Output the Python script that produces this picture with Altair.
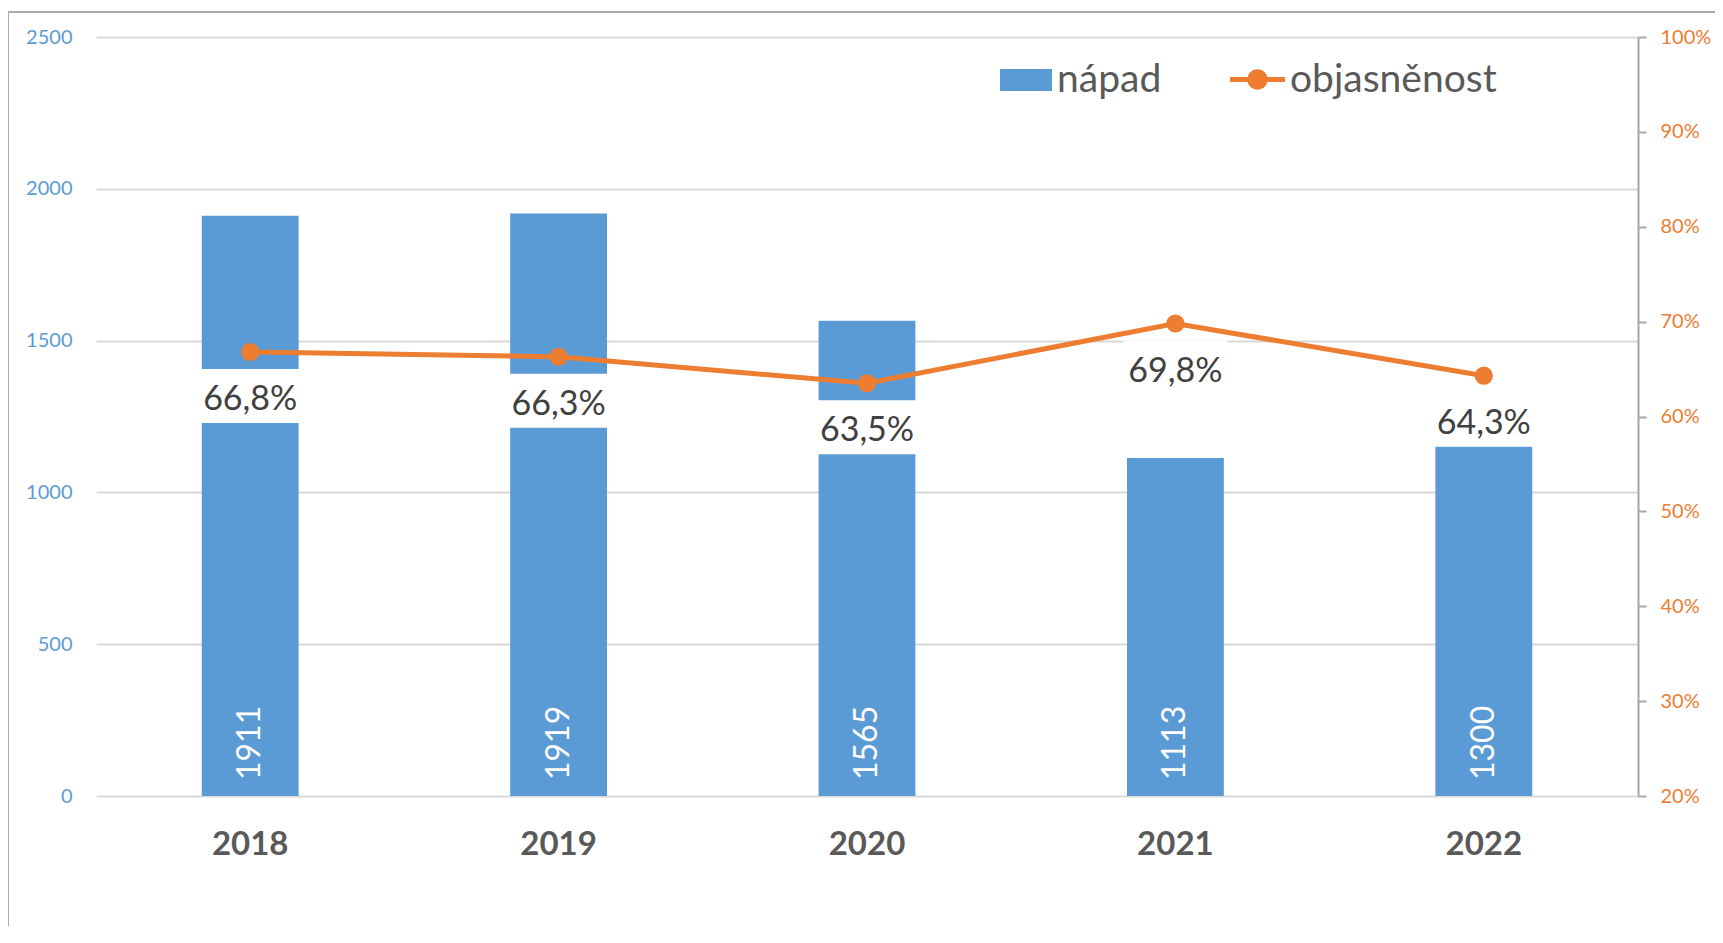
import altair as alt
import pandas as pd

years = ["2018", "2019", "2020", "2021", "2022"]
napad = [1911, 1919, 1565, 1113, 1300]
objasnenost = [0.668, 0.663, 0.635, 0.698, 0.643]
pct_labels = ["66,8%", "66,3%", "63,5%", "69,8%", "64,3%"]
left_ticks = [0, 500, 1000, 1500, 2000, 2500]
right_ticks = [0.2, 0.3, 0.4, 0.5, 0.6, 0.7, 0.8, 0.9, 1.0]

df = pd.DataFrame({
    "rok": years,
    "napad": napad,
    "obj": objasnenost,
    "lab": pct_labels,
    "s1": ["nápad"] * len(years),
    "s2": ["objasněnost"] * len(years),
})

BLUE = "#5B9BD5"
ORANGE = "#ED7D31"
FONT = "Lato"
GRAY_TXT = "#595959"

RECT_PATH = "M-1,-0.42H1V0.42H-1Z"
LINE_PATH = ("M-1,-0.09H-0.3V0.09H-1Z M0.3,-0.09H1V0.09H0.3Z "
             "M-0.37,0A0.37,0.37 0 1,1 0.37,0A0.37,0.37 0 1,1 -0.37,0Z")
BOX_PATH = "M-1,-0.52H1V0.52H-1Z"

x = alt.X("rok:N", title=None, sort=years,
          scale=alt.Scale(paddingInner=0, paddingOuter=0),
          axis=alt.Axis(labelAngle=0, labelFont=FONT, labelFontSize=33,
                        labelFontWeight="bold", labelColor=GRAY_TXT,
                        labelPadding=32, domain=False, ticks=False))

yL = alt.Y("napad:Q", title=None, scale=alt.Scale(domain=[0, 2500], nice=False),
           axis=alt.Axis(values=left_ticks, format="d", labelFont=FONT, labelFontSize=20,
                         labelColor=BLUE, labelPadding=24, ticks=False,
                         domain=False, grid=True, gridColor="#D9D9D9", gridWidth=2))

yR = alt.Y("obj:Q", title=None, scale=alt.Scale(domain=[0.2, 1.0], nice=False),
           axis=alt.Axis(orient="right", values=right_ticks, format=".0%",
                         labelFont=FONT, labelFontSize=20, labelColor=ORANGE,
                         labelPadding=14, ticks=True, tickSize=8,
                         tickColor="#A6A6A6", tickWidth=2, domain=True,
                         domainColor="#A6A6A6", domainWidth=2, grid=False))

frame = alt.Chart(alt.Data(values=[{"a": 1}])).mark_rect(
    fill="white", fillOpacity=0, stroke="#ABABAB", strokeWidth=2
).encode(x=alt.value(-88), x2=alt.value(1700), y=alt.value(-25), y2=alt.value(1000))

base = alt.Chart(df)

bars = base.mark_bar(width=alt.RelativeBandSize(0.314)).encode(
    x=x, y=yL,
    color=alt.Color("s1:N", scale=alt.Scale(range=[BLUE]),
                    legend=alt.Legend(title=None, orient="none", legendX=904, legendY=17,
                                      symbolType=RECT_PATH, symbolSize=2704,
                                      symbolStrokeWidth=0, labelFont=FONT,
                                      labelFontSize=39, labelColor=GRAY_TXT,
                                      labelOffset=5, padding=0, labelLimit=400)),
)

bar_labels = base.mark_text(angle=270, align="left", baseline="middle",
                            color="white", font=FONT, fontSize=32, yOffset=-16).encode(
    x=x, y=alt.datum(0), text="napad:Q"
)

boxes = base.mark_point(shape=BOX_PATH, size=104 * 104, filled=True,
                        color="white", opacity=1, yOffset=44).encode(x=x, y=yR)

line = base.mark_line(color=ORANGE, strokeWidth=5).encode(x=x, y=yR)

points = base.mark_point(filled=True, size=330, opacity=1).encode(
    x=x, y=yR,
    color=alt.Color("s2:N", scale=alt.Scale(range=[ORANGE]),
                    legend=alt.Legend(title=None, orient="none", legendX=1134, legendY=15,
                                      symbolType=LINE_PATH, symbolSize=3025,
                                      symbolStrokeWidth=0, labelFont=FONT,
                                      labelFontSize=39, labelColor=GRAY_TXT,
                                      labelOffset=5, padding=0, labelLimit=400)),
)

pct = base.mark_text(font=FONT, fontSize=34, color="#404040", dy=48,
                     baseline="middle").encode(x=x, y=yR, text="lab:N")

left = alt.layer(frame, bars, bar_labels)
right = alt.layer(boxes, line, points, pct)

chart = alt.layer(left, right).resolve_scale(y="independent", color="independent").properties(
    width=1542, height=759,
    autosize=alt.AutoSizeParams(type="none"),
    padding={"left": 88, "top": 29, "right": 77, "bottom": 130},
).configure_view(stroke=None)

chart.save("out.html", embed_options={"renderer": "svg", "actions": False})
